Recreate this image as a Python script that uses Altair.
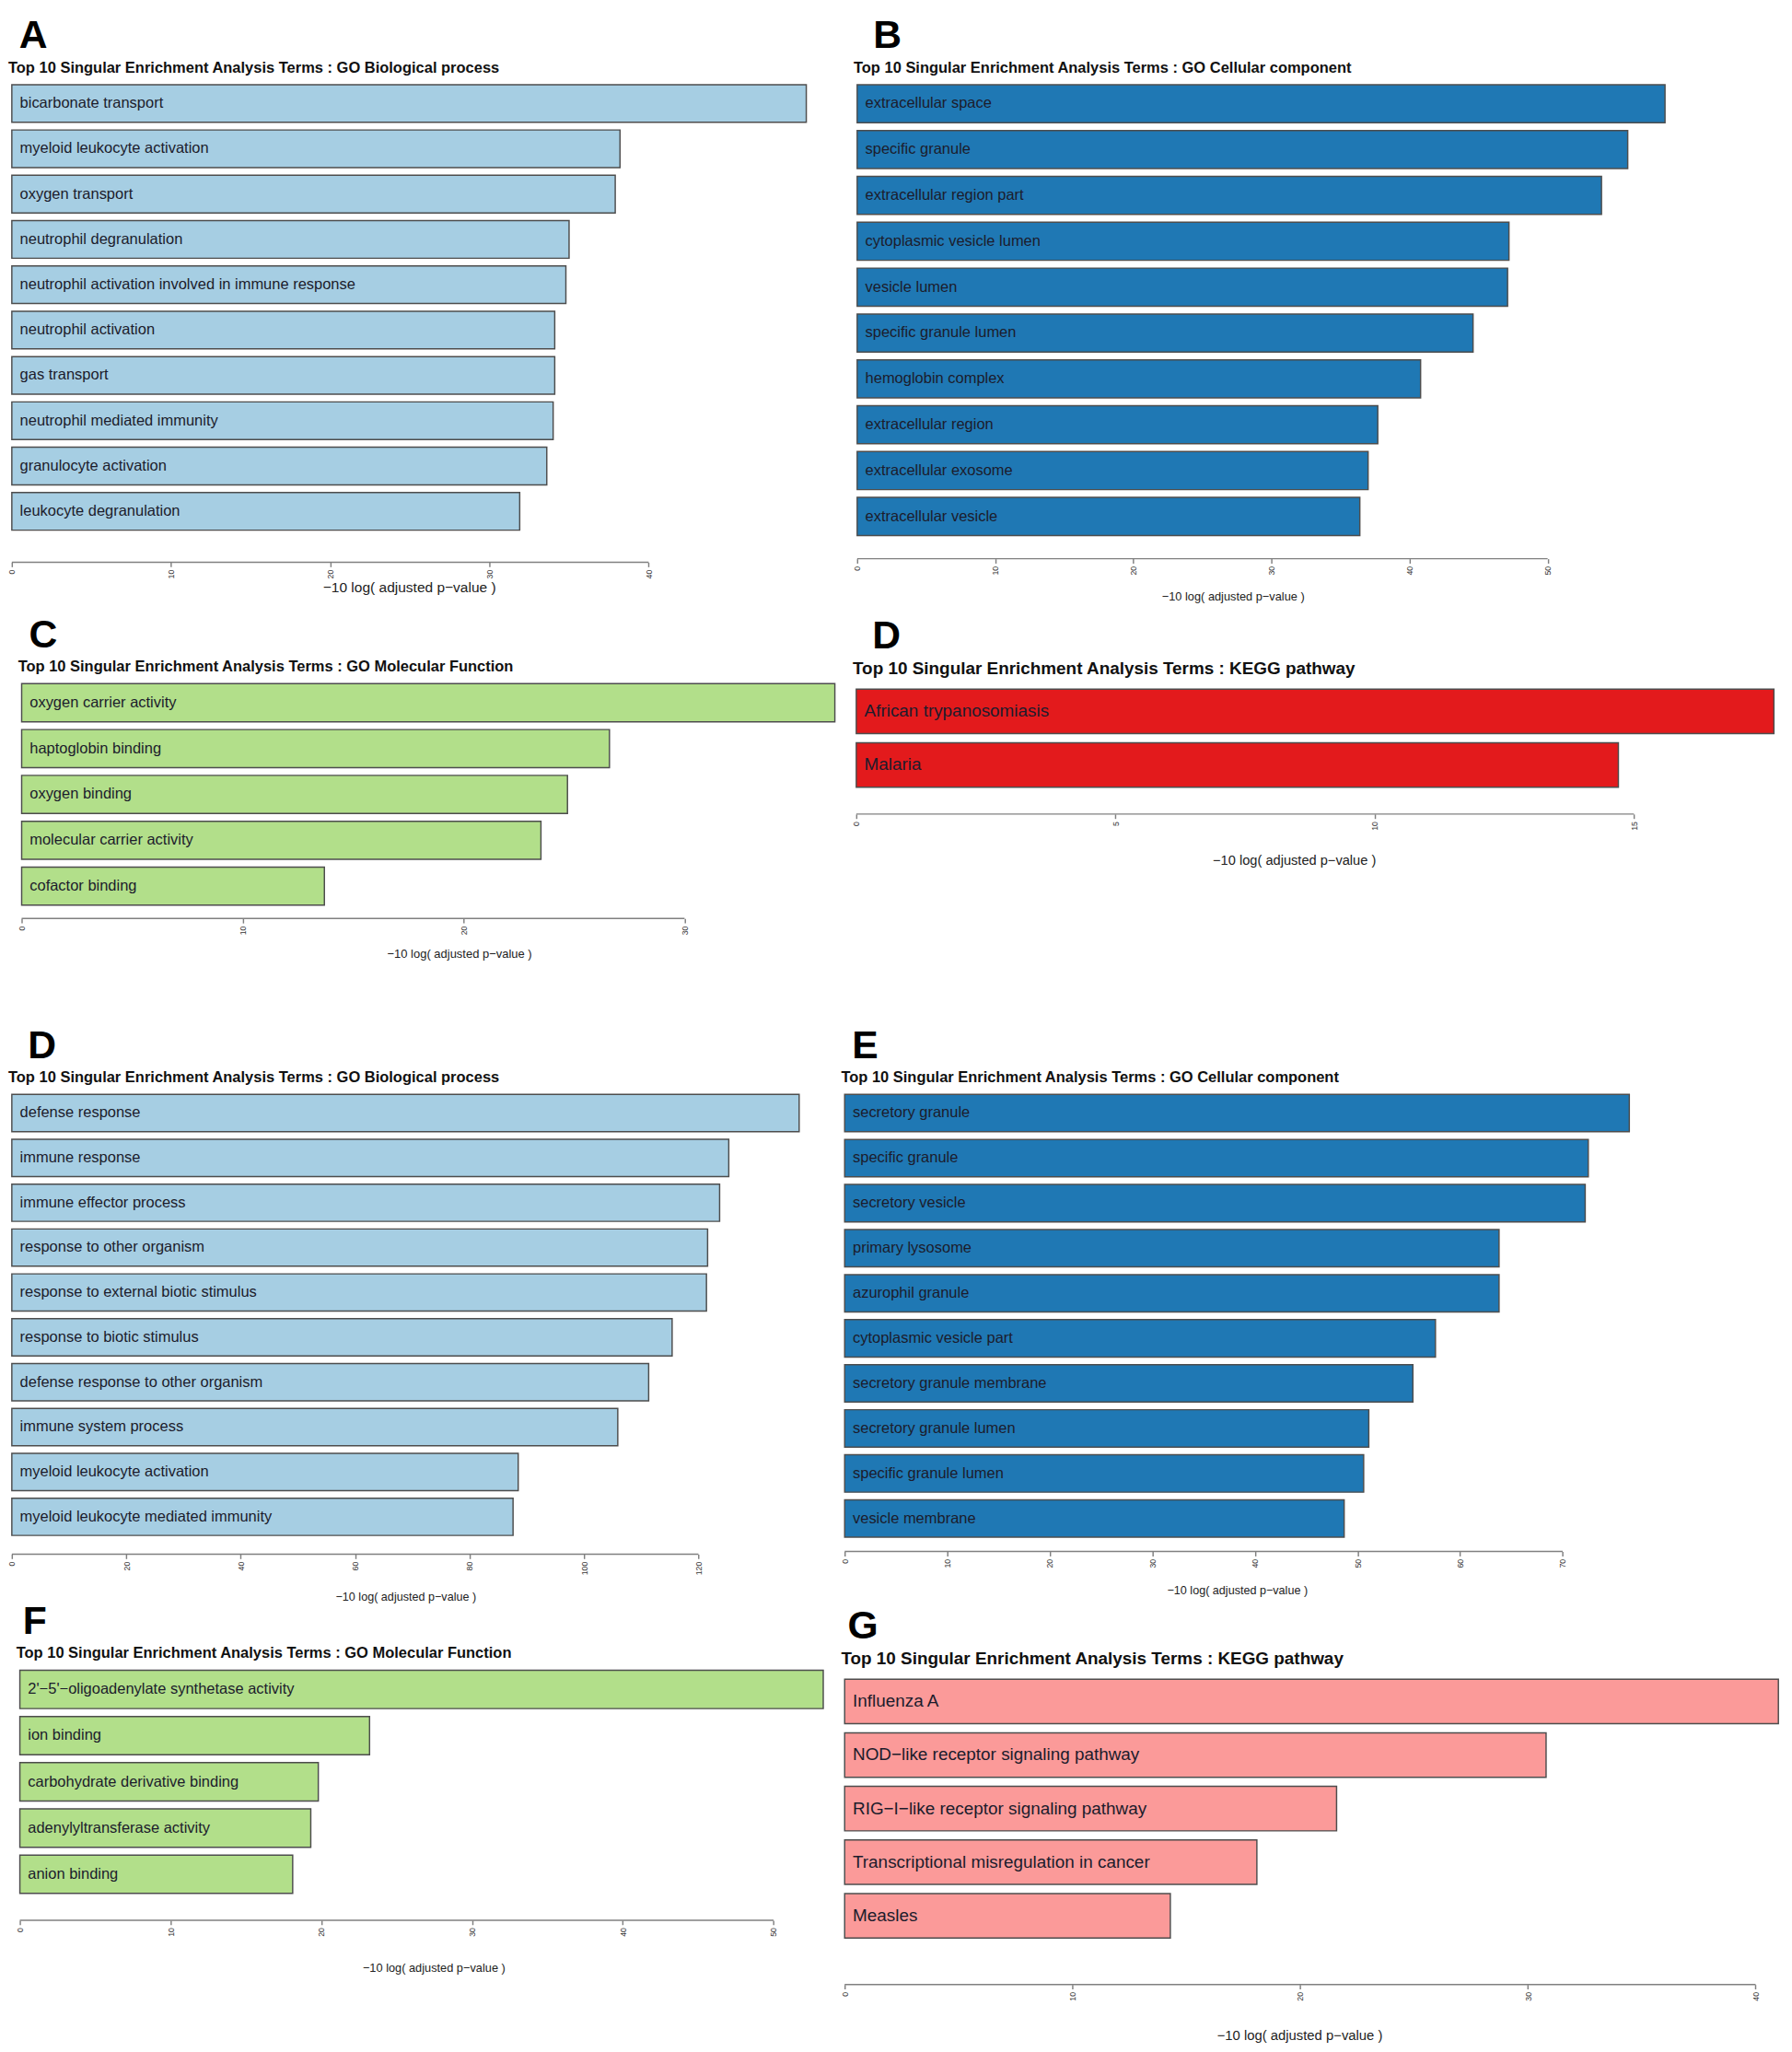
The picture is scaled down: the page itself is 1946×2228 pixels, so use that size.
import altair as alt
import pandas as pd

FONT = "Liberation Sans"
AXIS_TITLE = "\u221210 log( adjusted p\u2212value )"

# ---- data -------------------------------------------------------------
A_TERMS = ["bicarbonate transport", "myeloid leukocyte activation", "oxygen transport",
           "neutrophil degranulation", "neutrophil activation involved in immune response",
           "neutrophil activation", "gas transport", "neutrophil mediated immunity",
           "granulocyte activation", "leukocyte degranulation"]
A_VALUES = [49.9, 38.2, 37.9, 35.0, 34.8, 34.1, 34.1, 34.0, 33.6, 31.9]
A_TICKS = [0, 10, 20, 30, 40]

B_TERMS = ["extracellular space", "specific granule", "extracellular region part",
           "cytoplasmic vesicle lumen", "vesicle lumen", "specific granule lumen",
           "hemoglobin complex", "extracellular region", "extracellular exosome",
           "extracellular vesicle"]
B_VALUES = [58.5, 55.8, 53.9, 47.2, 47.1, 44.6, 40.8, 37.7, 37.0, 36.4]
B_TICKS = [0, 10, 20, 30, 40, 50]

C_TERMS = ["oxygen carrier activity", "haptoglobin binding", "oxygen binding",
           "molecular carrier activity", "cofactor binding"]
C_VALUES = [36.8, 26.6, 24.7, 23.5, 13.7]
C_TICKS = [0, 10, 20, 30]

K1_TERMS = ["African trypanosomiasis", "Malaria"]
K1_VALUES = [17.7, 14.7]
K1_TICKS = [0, 5, 10, 15]

D_TERMS = ["defense response", "immune response", "immune effector process",
           "response to other organism", "response to external biotic stimulus",
           "response to biotic stimulus", "defense response to other organism",
           "immune system process", "myeloid leukocyte activation",
           "myeloid leukocyte mediated immunity"]
D_VALUES = [137.6, 125.3, 123.7, 121.6, 121.4, 115.4, 111.3, 105.9, 88.5, 87.6]
D_TICKS = [0, 20, 40, 60, 80, 100, 120]

E_TERMS = ["secretory granule", "specific granule", "secretory vesicle", "primary lysosome",
           "azurophil granule", "cytoplasmic vesicle part", "secretory granule membrane",
           "secretory granule lumen", "specific granule lumen", "vesicle membrane"]
E_VALUES = [76.5, 72.5, 72.2, 63.8, 63.8, 57.6, 55.4, 51.1, 50.6, 48.7]
E_TICKS = [0, 10, 20, 30, 40, 50, 60, 70]

F_TERMS = ["2'\u22125'\u2212oligoadenylate synthetase activity", "ion binding",
           "carbohydrate derivative binding", "adenylyltransferase activity", "anion binding"]
F_VALUES = [53.3, 23.2, 19.8, 19.3, 18.1]
F_TICKS = [0, 10, 20, 30, 40, 50]

G_TERMS = ["Influenza A", "NOD\u2212like receptor signaling pathway",
           "RIG\u2212I\u2212like receptor signaling pathway",
           "Transcriptional misregulation in cancer", "Measles"]
G_VALUES = [41.0, 30.8, 21.6, 18.1, 14.3]
G_TICKS = [0, 10, 20, 30, 40]

TITLE_PREFIX = "Top 10 Singular Enrichment Analysis Terms : "

LIGHT_BLUE = "#A6CEE3"
DARK_BLUE = "#1F78B4"
LIGHT_GREEN = "#B2DF8A"
RED = "#E31A1C"
PINK = "#FB9A99"

# leading gaps before the panel letters (a zero-width char keeps them from being trimmed)
WIDE_GAP = "\u200b\u2002"
MID_GAP = "\u200b\u00a0"
SMALL_GAP = "\u200b\u2006"


def panel(letter, title, terms, values, ticks, color, width, height, axis_offset,
          axis_title_y, label_size, title_size, axis_title_size, title_offset=10,
          pad_outer=0.0, title_frac=0.5, lead=MID_GAP):
    df = pd.DataFrame({"term": terms, "value": values})
    vmax = max(values)
    x_scale = alt.Scale(domain=[0, vmax], nice=False, zero=True)
    ax = alt.Axis(values=ticks, format="d", labelAngle=270, domain=False, grid=False,
                  tickSize=5, tickColor="#808080", tickWidth=1.5,
                  labelFontSize=9, labelColor="#333333", labelFont=FONT,
                  labelPadding=3, offset=axis_offset, title=AXIS_TITLE,
                  titleFont=FONT, titleFontSize=axis_title_size,
                  titleFontWeight="normal", titleColor="#222222",
                  titleX=title_frac * width, titleAlign="center",
                  titleY=axis_title_y, titleBaseline="middle")
    y_enc = alt.Y("term:N", sort=terms, axis=None,
                  scale=alt.Scale(paddingInner=0.17, paddingOuter=pad_outer))
    bars = alt.Chart(df).mark_bar(fill=color, stroke="#4d4d4d", strokeWidth=1.5).encode(
        x=alt.X("value:Q", scale=x_scale, axis=ax),
        y=y_enc,
    )
    labels = alt.Chart(df).mark_text(align="left", baseline="middle", dx=9, font=FONT,
                                     fontSize=label_size, color="#1c1c2c").encode(
        x=alt.datum(0),
        y=y_enc,
        text="term:N",
    )
    line_df = pd.DataFrame({"start": [ticks[0]], "end": [ticks[-1]]})
    axis_line = alt.Chart(line_df).mark_rule(color="#808080", strokeWidth=1.5).encode(
        x=alt.X("start:Q", scale=x_scale, axis=ax),
        x2="end:Q",
        y=alt.value(height + axis_offset),
    )
    return alt.layer(bars, labels, axis_line).properties(
        width=width, height=height,
        title=alt.TitleParams(
            text=lead + letter, subtitle=title, anchor="start", font=FONT,
            fontSize=44, fontWeight="bold", color="#000000",
            subtitleFont=FONT, subtitleFontSize=title_size, subtitleFontWeight="bold",
            subtitleColor="#111111", subtitlePadding=5, offset=title_offset),
    )


def spacer():
    return alt.Chart(pd.DataFrame({"s": [0]})).mark_point(opacity=0, size=1).encode(
        x=alt.value(0), y=alt.value(0)).properties(width=1, height=1)


pA = panel("A", TITLE_PREFIX + "GO Biological process", A_TERMS, A_VALUES, A_TICKS,
           LIGHT_BLUE, 890, 499, 36, 28, 17, 17, 16, lead=MID_GAP)
pB = panel("B", TITLE_PREFIX + "GO Cellular component", B_TERMS, B_VALUES, B_TICKS,
           DARK_BLUE, 905, 505, 26, 42, 17, 17, 13.2, title_frac=0.465, lead=WIDE_GAP)
pC = panel("C", TITLE_PREFIX + "GO Molecular Function", C_TERMS, C_VALUES, C_TICKS,
           LIGHT_GREEN, 911, 248, 15, 40, 17, 17, 13.4, title_frac=0.538, lead=MID_GAP)
pK1 = panel("D", TITLE_PREFIX + "KEGG pathway", K1_TERMS, K1_VALUES, K1_TICKS,
            RED, 1028, 122, 24, 51, 19.5, 19.5, 15.1, title_offset=7.5,
            pad_outer=0.1, title_frac=0.477, lead=WIDE_GAP)
pD = panel("D", TITLE_PREFIX + "GO Biological process", D_TERMS, D_VALUES, D_TICKS,
           LIGHT_BLUE, 882, 494, 21, 48, 17, 17, 13, lead=WIDE_GAP)
pE = panel("E", TITLE_PREFIX + "GO Cellular component", E_TERMS, E_VALUES, E_TICKS,
           DARK_BLUE, 879, 496, 16, 43, 17, 17, 13, lead=MID_GAP)
pF = panel("F", TITLE_PREFIX + "GO Molecular Function", F_TERMS, F_VALUES, F_TICKS,
           LIGHT_GREEN, 900, 250, 30, 53, 17, 17, 13.2, title_frac=0.515,
           lead=SMALL_GAP)
pG = panel("G", TITLE_PREFIX + "KEGG pathway", G_TERMS, G_VALUES, G_TICKS,
           PINK, 1046, 310, 42, 57, 19.5, 19.5, 15.3, title_offset=3,
           pad_outer=0.167, title_frac=0.487, lead=SMALL_GAP)

row1 = alt.hconcat(pA, pB, spacing=50)
row2 = alt.hconcat(spacer(), alt.hconcat(pC, pK1, spacing=17), spacing=4)
row3 = alt.hconcat(pD, pE, spacing=44)
row4 = alt.hconcat(spacer(), alt.hconcat(pF, pG, spacing=17), spacing=2)

chart = alt.vconcat(
    alt.vconcat(alt.vconcat(row1, row2, spacing=14), row3, spacing=73),
    row4, spacing=-3,
).properties(
    padding={"left": 0, "top": -26, "right": 5, "bottom": 5}
).configure(background="white").configure_view(stroke="transparent")

chart.save("out.html", embed_options={"renderer": "svg", "actions": False})
